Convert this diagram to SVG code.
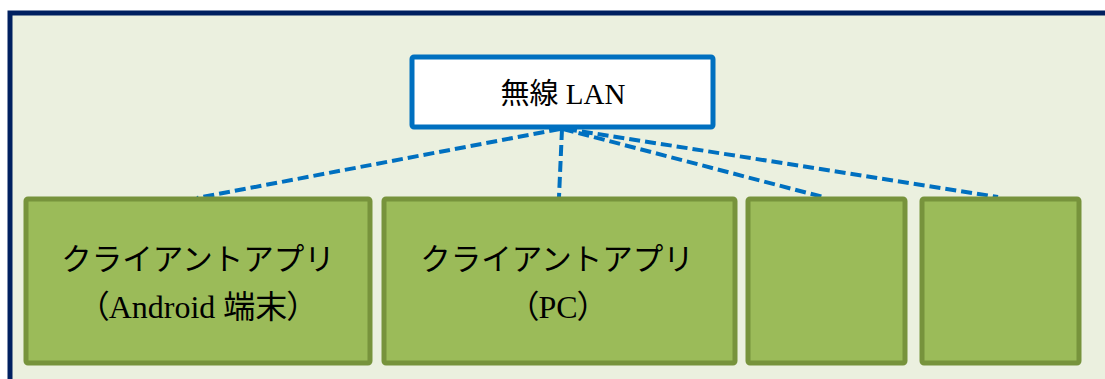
<svg xmlns="http://www.w3.org/2000/svg" width="1105" height="379" viewBox="0 0 1105 379">
<style>
.frame{fill:#EBF0DF;stroke:#002060;stroke-width:5}
.lan{fill:#FFFFFF;stroke:#0070C0;stroke-width:5}
.client{fill:#9BBB59;stroke:#77933C;stroke-width:5}
.conn{stroke:#0070C0;stroke-width:4;stroke-dasharray:11 5;fill:none}
text{font-family:"Liberation Serif","Noto Sans CJK JP",serif;fill:#000;text-anchor:middle}
.t1{font-size:30.5px}
.t2{font-size:32px;font-feature-settings:"palt"}
</style>
<rect class="frame" x="10" y="13" width="1110" height="380"/>
<g id="connectors">
<line class="conn" x1="560" y1="129" x2="197" y2="198"/>
<line class="conn" x1="562" y1="129" x2="559" y2="197"/>
<line class="conn" x1="563" y1="129" x2="823" y2="197"/>
<line class="conn" x1="566" y1="129" x2="998" y2="197"/>
</g>
<g id="lan">
<rect class="lan" x="412" y="57" width="301" height="70" rx="2"/>
<text x="563" y="104" style="font-size:29px">無線 LAN</text>
</g>
<g id="client-android">
<rect class="client" x="26" y="199" width="344" height="164" rx="2"/>
<text class="t1" x="198" y="270">クライアントアプリ</text>
<text class="t2" x="198" y="318">（Android 端末）</text>
</g>
<g id="client-pc">
<rect class="client" x="384" y="199" width="351" height="164" rx="2"/>
<text class="t1" x="557" y="270">クライアントアプリ</text>
<text class="t2" x="558" y="318">（PC）</text>
</g>
<g id="client-3">
<rect class="client" x="748" y="199" width="157" height="164" rx="2"/>
</g>
<g id="client-4">
<rect class="client" x="922" y="199" width="157" height="164" rx="2"/>
</g>
</svg>
